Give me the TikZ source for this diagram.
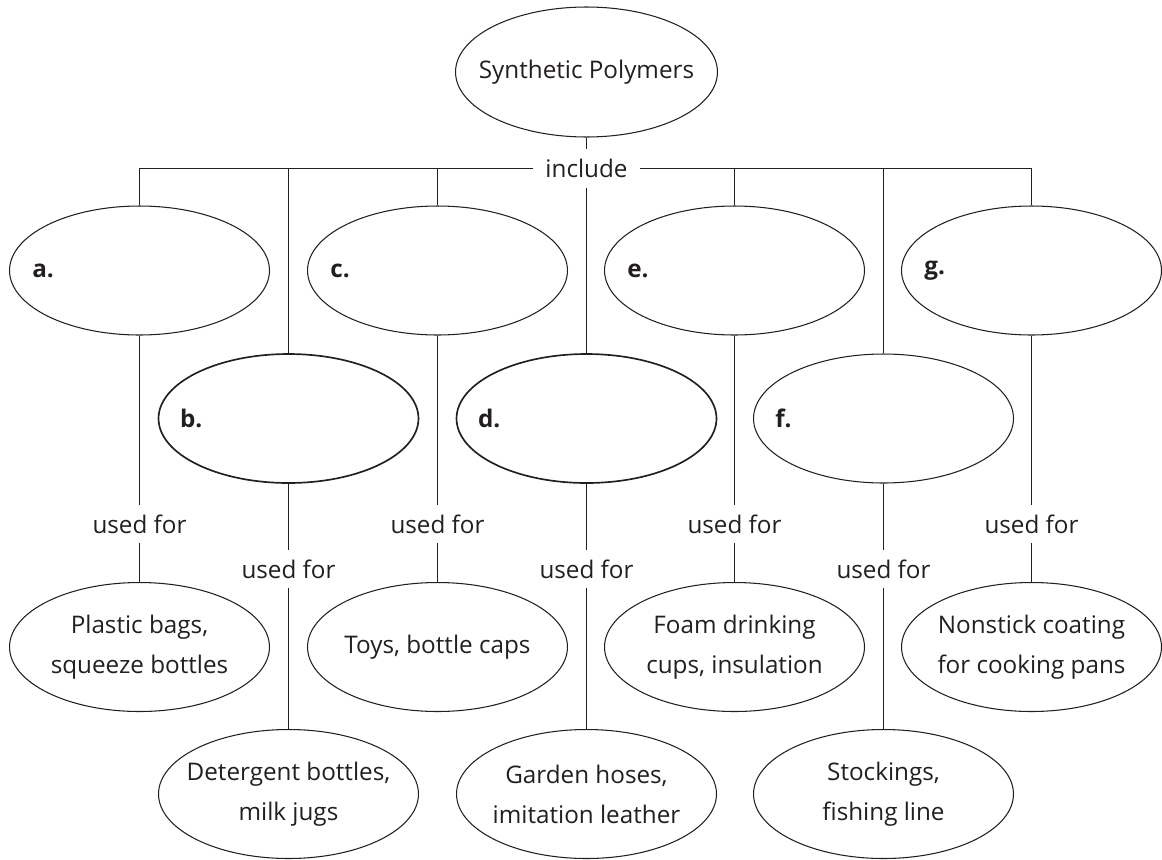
\documentclass[tikz,border=0pt]{standalone}
\usepackage{fontspec}
\setmainfont{Open Sans}
\usepackage{xcolor}
\usepackage{tikz}
\usetikzlibrary{shapes.geometric,positioning}

\definecolor{ink}{HTML}{231F20}

\begin{document}
\begin{tikzpicture}[
    x=0.02cm, y=-0.02cm,
    every node/.style={font=\fontsize{13.8}{22.7}\selectfont, text=ink},
    bubble/.style={ellipse, draw=ink, line width=0.6pt, minimum width=5.2cm, minimum height=2.58cm, inner ysep=0pt, inner xsep=-14pt, align=center},
    heavy/.style={bubble, line width=0.95pt},
    link/.style={inner xsep=6.8pt, inner ysep=5.5pt, text height=10.5pt, text depth=0pt},
    tag/.style={inner sep=0pt, font=\fontsize{13.8}{16}\selectfont\bfseries},
    wire/.style={draw=ink, line width=0.6pt}
]
    \useasboundingbox (0,0) rectangle (1162,859);

    % top of the map
    \node[bubble, minimum width=5.24cm, minimum height=2.6cm] (poly) at (586.5,72) {Synthetic Polymers};
    \node[link] (incl) at (586.5,168.5) {include};

    % the polymers (left blank)
    \node[bubble] (a) at (139.5,270.5) {};
    \node[heavy] (b) at (288.5,418.5) {};
    \node[bubble] (c) at (437.5,270.5) {};
    \node[heavy] (d) at (586.5,418.5) {};
    \node[bubble] (e) at (734.5,270.5) {};
    \node[bubble] (f) at (883.5,418.5) {};
    \node[bubble] (g) at (1031.5,270.5) {};

    \node[tag, right=0.46cm of a.west] (la) {a.};
    \node[tag, right=0.44cm of b.west] (lb) {b.};
    \node[tag, right=0.46cm of c.west] (lc) {c.};
    \node[tag, right=0.44cm of d.west] (ld) {d.};
    \node[tag, right=0.46cm of e.west] (le) {e.};
    \node[tag, right=0.44cm of f.west] (lf) {f.};
    \node[tag, right=0.46cm of g.west] (lg) {g.};

    % what they are used for
    \node[bubble] (pa) at (139.5,647) {Plastic bags,\\squeeze bottles};
    \node[bubble] (pb) at (288.5,794) {Detergent bottles,\\milk jugs};
    \node[bubble] (pc) at (437.5,647) {Toys, bottle caps};
    \node[bubble] (pd) at (586.5,794) {Garden hoses,\\imitation leather};
    \node[bubble] (pe) at (734.5,647) {Foam drinking\\cups, insulation};
    \node[bubble] (pf) at (883.5,794) {Stockings,\\fishing line};
    \node[bubble] (pg) at (1031.5,647) {Nonstick coating\\for cooking pans};

    \node[link] (ua) at (139.5,524) {used for};
    \node[link] (ub) at (288.5,569) {used for};
    \node[link] (uc) at (437.5,524) {used for};
    \node[link] (ud) at (586.5,569) {used for};
    \node[link] (ue) at (734.5,524) {used for};
    \node[link] (uf) at (883.5,569) {used for};
    \node[link] (ug) at (1031.5,524) {used for};

    % connectors
    \draw[wire] (poly) -- (incl);
    \draw[wire] (incl) -- (d);
    \draw[wire] (incl.west) -- (a |- incl) -- (a);
    \draw[wire] (b |- incl) -- (b);
    \draw[wire] (c |- incl) -- (c);
    \draw[wire] (incl.east) -- (g |- incl) -- (g);
    \draw[wire] (e |- incl) -- (e);
    \draw[wire] (f |- incl) -- (f);

    \draw[wire] (a) -- (ua) -- (pa);
    \draw[wire] (b) -- (ub) -- (pb);
    \draw[wire] (c) -- (uc) -- (pc);
    \draw[wire] (d) -- (ud) -- (pd);
    \draw[wire] (e) -- (ue) -- (pe);
    \draw[wire] (f) -- (uf) -- (pf);
    \draw[wire] (g) -- (ug) -- (pg);
\end{tikzpicture}
\end{document}
